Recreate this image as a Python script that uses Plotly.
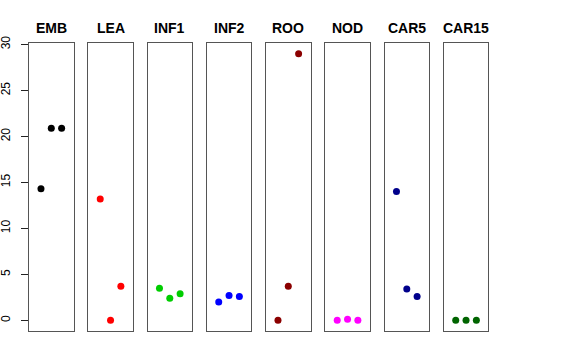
import plotly.graph_objects as go

panels = ["EMB", "LEA", "INF1", "INF2", "ROO", "NOD", "CAR5", "CAR15"]
colors = ["#000000", "#FF0000", "#00CD00", "#0000FF", "#8B0000", "#FF00FF", "#00008B", "#006400"]
x_pos = [1, 2, 3]
EMB = [14.3, 20.9, 20.9]
LEA = [13.2, 0.0, 3.7]
INF1 = [3.5, 2.4, 2.9]
INF2 = [2.0, 2.7, 2.6]
ROO = [0.0, 3.7, 29.0]
NOD = [0.0, 0.12, 0.0]
CAR5 = [14.0, 3.4, 2.6]
CAR15 = [0.0, 0.0, 0.0]
values = [EMB, LEA, INF1, INF2, ROO, NOD, CAR5, CAR15]
y_ticks = [0, 5, 10, 15, 20, 25, 30]

W, H = 576, 360
left0, step, pw = 29.0, 59.25, 44.6
top_px, bot_px = 43.0, 331.0

fig = go.Figure()
layout = dict(
    width=W, height=H,
    margin=dict(l=0, r=0, t=0, b=0, autoexpand=False),
    paper_bgcolor="white", plot_bgcolor="white",
    showlegend=False,
    font=dict(family="Liberation Sans, Arial, sans-serif", color="black"),
)
annotations = []
for i, (name, col, vals) in enumerate(zip(panels, colors, values)):
    n = i + 1
    xa = "x" if n == 1 else f"x{n}"
    ya = "y" if n == 1 else f"y{n}"
    fig.add_trace(go.Scatter(
        x=x_pos, y=vals, mode="markers", xaxis=xa, yaxis=ya,
        marker=dict(color=col, size=7, line=dict(width=0)),
        cliponaxis=False,
    ))
    l = left0 + i * step
    r = l + pw
    layout["xaxis" if n == 1 else f"xaxis{n}"] = dict(
        domain=[l / W, r / W], range=[-0.16, 4.16],
        showgrid=False, zeroline=False, showticklabels=False, ticks="",
        showline=True, mirror=True, linecolor="#555555", linewidth=1,
        anchor=ya, fixedrange=True, automargin=False,
    )
    yax = dict(
        domain=[1 - bot_px / H, 1 - top_px / H], range=[-1.16, 30.16],
        showgrid=False, zeroline=False,
        showline=True, mirror=True, linecolor="#555555", linewidth=1,
        anchor=xa, fixedrange=True, automargin=False,
    )
    if n == 1:
        yax.update(tickmode="array", tickvals=y_ticks, ticktext=[str(t) for t in y_ticks],
                   ticks="outside", ticklen=7, tickcolor="#222222", tickwidth=1,
                   tickangle=-90, ticklabelstandoff=6,
                   tickfont=dict(size=12, color="black"))
    else:
        yax.update(showticklabels=False, ticks="")
    layout["yaxis" if n == 1 else f"yaxis{n}"] = yax
    annotations.append(dict(
        text=f"<b>{name}</b>", x=(l + r) / 2 / W, y=1 - 28.5 / H,
        xref="paper", yref="paper", xanchor="center", yanchor="middle",
        showarrow=False, font=dict(size=14, color="black"),
    ))
layout["annotations"] = annotations
fig.update_layout(**layout)
fig.write_html("out.html", config={"displayModeBar": False},
               post_script="document.body.style.margin='0';")
